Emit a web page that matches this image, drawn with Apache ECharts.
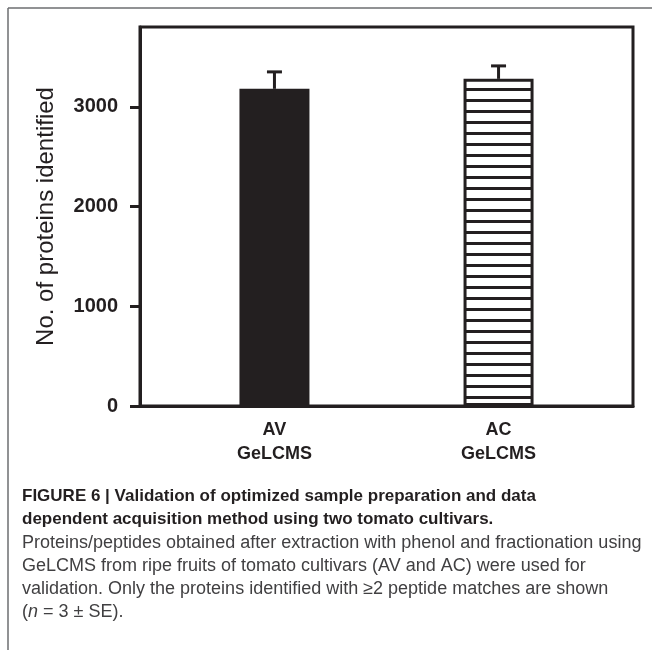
<!DOCTYPE html>
<html>
<head>
<meta charset="utf-8">
<script src="https://cdn.jsdelivr.net/npm/echarts@6/dist/echarts.min.js"></script>
<style>
  html, body { margin: 0; padding: 0; background: #fff; }
  #chart { width: 652px; height: 650px; }
</style>
</head>
<body>
<div id="chart"></div>
<script>
// data
const categories = ['AV', 'AC']
const methodLabel = 'GeLCMS'
const proteinCounts = [3180, 3280]
const proteinSE = [170, 130]
const yTicks = [0, 1000, 2000, 3000]
const yName = 'No. of proteins identified'
const captionBold = [
  'FIGURE 6 | Validation of optimized sample preparation and data',
  'dependent acquisition method using two tomato cultivars.'
]
const captionBody = [
  'Proteins/peptides obtained after extraction with phenol and fractionation using',
  'GeLCMS from ripe fruits of tomato cultivars (AV and AC) were used for',
  'validation. Only the proteins identified with \u22652 peptide matches are shown',
  '({i|n} = 3 \u00b1 SE).'
]

const ink = '#231f20'
const font = '"Liberation Sans", Arial, Helvetica, sans-serif'

// horizontal stripes for the AC bar
const stripe = document.createElement('canvas')
stripe.width = 4
stripe.height = 11
const sctx = stripe.getContext('2d')
sctx.fillStyle = '#fff'
sctx.fillRect(0, 0, 4, 11)
sctx.fillStyle = ink
sctx.fillRect(0, 0, 4, 3)

const chart = echarts.init(document.getElementById('chart'), null, { renderer: 'canvas' })

const barData = proteinCounts.map((v, i) => ({
  value: [i, v],
  itemStyle: i === 0
    ? { color: ink }
    : { color: { image: stripe, repeat: 'repeat' }, borderColor: ink, borderWidth: 3 }
}))

const errData = proteinCounts.map((v, i) => [i, v, proteinSE[i]])

// caption text blocks
const captionGraphics = []
captionBold.forEach((t, i) => {
  captionGraphics.push({
    type: 'text', x: 22, y: 496 + i * 23.5,
    style: { text: t, fill: ink, font: 'bold 17px ' + font, verticalAlign: 'middle' }
  })
})
captionBody.forEach((t, i) => {
  captionGraphics.push({
    type: 'text', x: 22, y: 543 + i * 23,
    style: {
      text: t, fill: '#414042', font: '18px ' + font, verticalAlign: 'middle',
      rich: { i: { fontStyle: 'italic', fontSize: 18, fontFamily: font, fill: '#414042' } }
    }
  })
})

const option = {
  backgroundColor: '#fff',
  animation: false,
  grid: {
    left: 140, right: 19, top: 27, bottom: 244,
    show: true, borderColor: ink, borderWidth: 3, backgroundColor: '#fff'
  },
  xAxis: {
    type: 'value',
    min: -0.6,
    max: 1.6,
    axisLine: { show: true, onZero: false, lineStyle: { color: ink, width: 3 } },
    axisTick: { show: false },
    splitLine: { show: false },
    axisLabel: {
      customValues: [0, 1],
      formatter: v => categories[Math.round(v)] + '\n' + methodLabel,
      color: ink, fontWeight: 'bold', fontSize: 18, fontFamily: font,
      lineHeight: 24, margin: 12
    }
  },
  yAxis: {
    type: 'value',
    min: 0,
    max: 3800,
    name: yName,
    nameLocation: 'middle',
    nameGap: 82,
    nameTextStyle: { color: ink, fontSize: 24, fontFamily: font },
    axisLine: { show: true, onZero: false, lineStyle: { color: ink, width: 3 } },
    axisTick: { show: true, inside: false, length: 10, customValues: yTicks, lineStyle: { color: ink, width: 3 } },
    splitLine: { show: false },
    axisLabel: {
      customValues: yTicks,
      formatter: v => String(v),
      color: ink, fontWeight: 'bold', fontSize: 20, fontFamily: font, margin: 22
    }
  },
  graphic: [
    { type: 'line', shape: { x1: 8, y1: 8, x2: 652, y2: 8 }, style: { stroke: '#6d6e71', lineWidth: 1.5 } },
    { type: 'line', shape: { x1: 8, y1: 8, x2: 8, y2: 650 }, style: { stroke: '#6d6e71', lineWidth: 1.5 } }
  ].concat(captionGraphics),
  series: [
    {
      type: 'bar',
      data: barData,
      barWidth: 70,
      z: 2
    },
    {
      type: 'custom',
      data: errData,
      z: 3,
      renderItem: (params, api) => {
        const x = api.value(0)
        const top = api.coord([x, api.value(1)])
        const hi = api.coord([x, api.value(1) + api.value(2)])
        const st = { stroke: ink, lineWidth: 3 }
        return {
          type: 'group',
          children: [
            { type: 'line', shape: { x1: top[0], y1: top[1], x2: hi[0], y2: hi[1] }, style: st },
            { type: 'line', shape: { x1: hi[0] - 7.5, y1: hi[1], x2: hi[0] + 7.5, y2: hi[1] }, style: st }
          ]
        }
      }
    }
  ]
}

chart.setOption(option)
</script>
</body>
</html>
